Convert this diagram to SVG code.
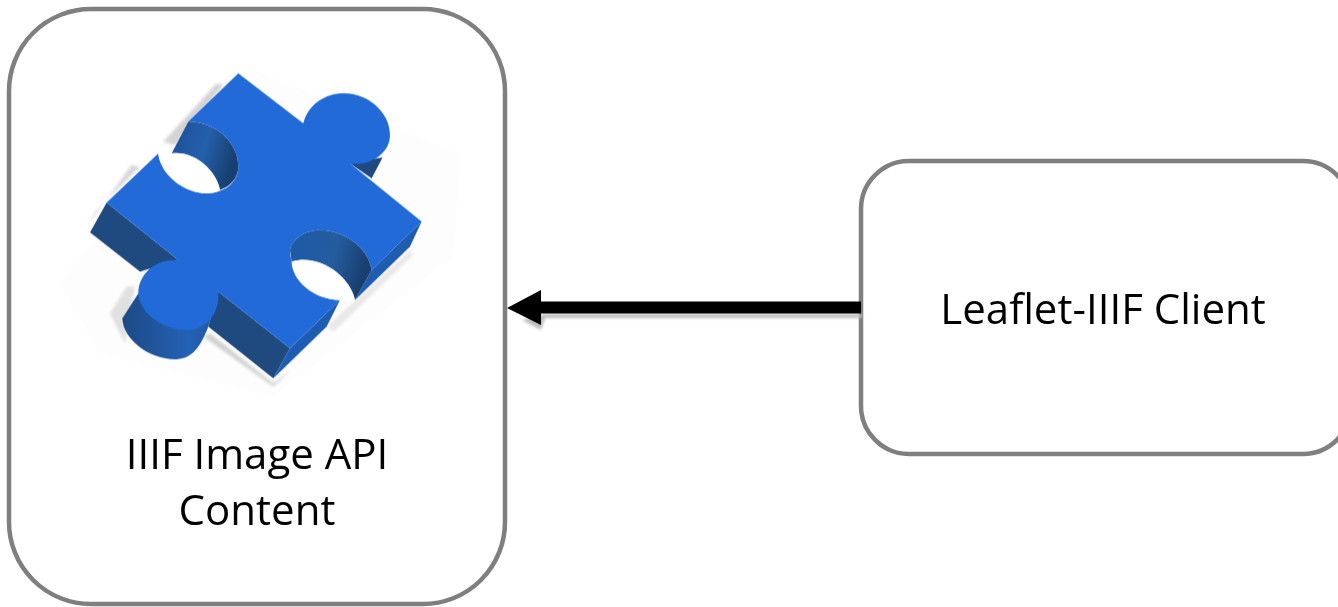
<svg xmlns="http://www.w3.org/2000/svg" width="1338" height="607" viewBox="0 0 1338 607">
<style>
.box{fill:#fff;stroke:#7f7f7f;stroke-width:4.5}
.lbl{font-family:"Open Sans","Noto Sans",sans-serif;font-size:42px;fill:#000;text-anchor:middle}
.wall{fill:#1f4a80}
.edge{fill:#1d5cb0}
.face{fill:#236ad9}
</style>
<defs>
<filter id="b6" x="-30%" y="-30%" width="160%" height="160%"><feGaussianBlur stdDeviation="5"/></filter>
<filter id="b2" x="-10%" y="-50%" width="120%" height="200%"><feGaussianBlur stdDeviation="1.5"/></filter>
<linearGradient id="g1" x1="0" y1="0" x2="1" y2="0.3"><stop offset="0" stop-color="#1d4f94"/><stop offset=".55" stop-color="#2560ad"/><stop offset="1" stop-color="#174070"/></linearGradient>
<linearGradient id="g2" x1="0" y1="0" x2="1" y2="0.25"><stop offset="0" stop-color="#1d5ba8"/><stop offset=".6" stop-color="#245c9f"/><stop offset="1" stop-color="#183f6e"/></linearGradient>
<linearGradient id="g3" x1="0" y1="0" x2="1" y2="0"><stop offset="0" stop-color="#1c4a85"/><stop offset=".7" stop-color="#2462b5"/><stop offset="1" stop-color="#1f589f"/></linearGradient>
</defs>
<rect width="1338" height="607" fill="#fff"/>
<g id="node-iiif-content">
<rect class="box" x="9" y="9" width="496" height="595" rx="82"/>
<g transform="translate(60 70) scale(.3333)">
<path d="M0 640 L530 -20 L1200 250 L1180 560 L640 980 L120 850Z" fill="#fdfdfd"/>
<g filter="url(#b6)" fill="#c4c4c4">
<path d="M470 40 L490 45 L345 225 L310 215Z" opacity=".75"/>
<path d="M215 285 L240 290 L110 420 L80 470Z" opacity=".7"/>
<path d="M200 650 L225 650 L195 820 L150 730Z" opacity=".5"/>
<path d="M450 790 L640 940 L690 900 L640 950 L430 800Z" opacity=".8"/>
<path d="M800 770 L1050 540 L1060 555 L820 785Z" opacity=".35"/>
</g>
<path class="wall" d="M140 398 L90 487 L240 605 L355 570Z"/>
<path class="wall" d="M475 665 L445 770 L640 925 L690 835Z"/>
<path class="edge" d="M690 835 L640 925 L800 770 L840 690Z"/>
<path class="edge" d="M1085 455 L1050 530 L885 690 L935 600Z"/>
<path fill="#1f4a80" d="M870 280 L935 325 L968 262Z"/>
<path fill="#1f4a80" d="M730 160 L752 182 L760 130Z"/>
<path fill="url(#g3)" d="M235 670 L187 745 C190 810 270 870 350 868 C395 865 420 835 445 770 L470 690Z"/>
<path class="face" d="M535 10 L730 160 C745 100 800 68 855 70 C930 72 990 130 990 195 C990 250 930 290 870 280 L1085 455 L935 600 C925 530 850 480 780 480 C730 480 695 510 690 540 C690 610 760 690 840 690 L690 835 L475 665 C480 730 440 780 380 780 C300 780 235 720 235 670 C235 610 290 565 355 570 L140 398 L295 250 C300 310 370 370 440 370 C490 370 535 340 535 290 C535 220 470 155 385 155Z"/>
<path fill="url(#g1)" d="M385 155 C470 155 535 220 535 290 C535 325 510 350 480 360 C470 300 400 240 335 250Z"/>
<path fill="url(#g2)" d="M690 540 C695 510 730 480 780 480 C850 480 925 530 935 600 L885 690 C870 620 780 550 695 575Z"/>
<path fill="#fff" d="M295 250 L335 250 C400 240 470 300 480 360 C465 368 450 370 440 370 C370 370 300 310 295 250Z"/>
<path fill="#fff" d="M695 575 C780 550 870 620 885 690 L840 690 C760 690 695 630 695 575Z"/>
</g>
<text class="lbl" x="257" y="469">IIIF Image API</text>
<text class="lbl" x="257" y="525">Content</text>
</g>
<g id="node-leaflet-client">
<rect class="box" x="861" y="161" width="490" height="293" rx="48"/>
<text class="lbl" x="1103" y="324">Leaflet-IIIF Client</text>
</g>
<g id="connectors">
<path d="M545 314 L862 314 L862 318 L545 318 L541 330 L522 320Z" fill="#bbb" filter="url(#b2)"/>
<path d="M861 307.500 L540 307.500" stroke="#000" stroke-width="12" fill="none"/>
<path d="M507 308 L541 290 L541 325Z" fill="#000"/>
</g>
</svg>
